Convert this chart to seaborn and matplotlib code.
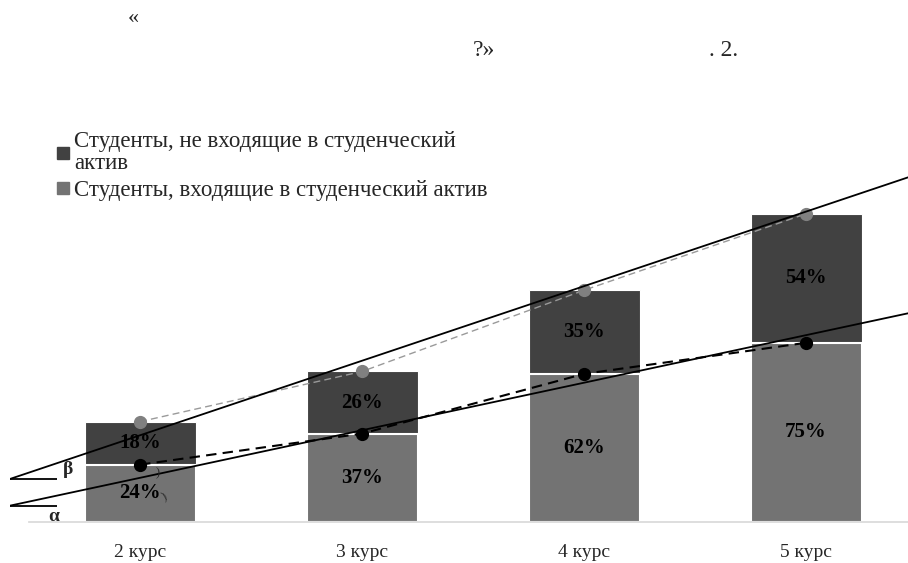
import matplotlib
matplotlib.use("Agg")
import matplotlib.pyplot as plt
from matplotlib.lines import Line2D
import numpy as np
import pandas as pd
import seaborn as sns

# ─── Data ────────────────────────────────────────────────────────────────────
courses = ["2 курс", "3 курс", "4 курс", "5 курс"]
active = [24, 37, 62, 75]          # входящие в актив (нижняя часть)
not_active = [18, 26, 35, 54]      # не входящие в актив (верхняя часть)
legend_labels = ["Студенты, не входящие в студенческий\nактив",
                 "Студенты, входящие в студенческий актив"]
# hand-drawn trend lines: value at "2 курс" and rise per course
trend_start = [36.3, 18.5]
trend_step = [31.2, 19.9]

DARK = "#414141"
MID = "#737373"

sns.set_theme(style="white")
plt.rcParams["font.family"] = ["Liberation Serif", "DejaVu Serif"]

df = pd.DataFrame({"course": courses, "active": active, "not_active": not_active})
df["total"] = df["active"] + df["not_active"]

fig = plt.figure(figsize=(9.08, 5.63), dpi=100)
ax = fig.add_axes([0.011, 0.0728, 0.989, 0.7496])

# stacked bars: total first, then bottom part over it
sns.barplot(data=df, x="course", y="total", color=DARK, width=0.5,
            saturation=1, edgecolor="white", linewidth=0.8, ax=ax)
sns.barplot(data=df, x="course", y="active", color=MID, width=0.5,
            saturation=1, edgecolor="white", linewidth=1.5, ax=ax)

xs = np.arange(len(courses))

# percent labels
for i in xs:
    ax.text(i, df["active"][i] / 2, f"{df['active'][i]}%", ha="center",
            va="center", fontsize=15, fontweight="bold", color="black")
    ax.text(i, df["active"][i] + df["not_active"][i] / 2,
            f"{df['not_active'][i]}%", ha="center", va="center",
            fontsize=15, fontweight="bold", color="black")

# dashed connectors with dots
ax.plot(xs, df["total"], color="#9a9a9a", lw=1.0, dashes=(5, 3), zorder=4)
ax.plot(xs, df["total"], "o", color="#808080", ms=8.5, zorder=5)
ax.plot(xs, df["active"], color="black", lw=1.5, dashes=(5, 3), zorder=4)
ax.plot(xs, df["active"], "o", color="black", ms=8.5, zorder=5)

ax.set_xlim(-0.586, 3.459)
ax.set_ylim(0, 176.6)

# solid trend lines
x_left = ax.get_xlim()[0]
for start, step in zip(trend_start, trend_step):
    ax.axline((0, start), slope=step, color="black", lw=1.3, zorder=6)
    ax.hlines(start + step * x_left, x_left, -0.375, color="black", lw=1.3, zorder=6)

ax.text(-0.325, 22, "β", fontsize=14, fontweight="bold", ha="center", va="center")
ax.text(-0.39, 2.5, "α", fontsize=14, fontweight="bold", ha="center", va="center")
# tiny angle arcs
ax.text(0.08, 20.5, ")", fontsize=9, ha="center", va="center", zorder=7)
ax.text(0.11, 10.5, ")", fontsize=9, rotation=30, ha="center", va="center", zorder=7)

# axes styling
for side in ["top", "right", "left"]:
    ax.spines[side].set_visible(False)
ax.spines["bottom"].set_color("#d9d9d9")
ax.spines["bottom"].set_bounds(-0.5, 3.459)
ax.set_yticks([])
ax.set_xlabel("")
ax.set_ylabel("")
ax.tick_params(axis="x", length=0, pad=16, labelsize=14)

# legend
handles = [Line2D([], [], marker="s", ls="", color=DARK, ms=9),
           Line2D([], [], marker="s", ls="", color=MID, ms=9)]
leg = fig.legend(handles, legend_labels, loc="upper left",
                 bbox_to_anchor=(0.050, 0.783), frameon=False, fontsize=16.5,
                 handlelength=0.7, handletextpad=0.15, labelspacing=0.25,
                 borderaxespad=0)
for t in leg.get_texts():
    t.set_linespacing(1.05)

# heading fragments
fig.text(133 / 908, 1 - 18 / 563, "«", fontsize=16, ha="center", va="center")
fig.text(484 / 908, 1 - 56 / 563, "?»", fontsize=17, ha="center", va="baseline")
fig.text(724 / 908, 1 - 56 / 563, ". 2.", fontsize=17, ha="center", va="baseline")

fig.savefig("out.png", dpi=100)
